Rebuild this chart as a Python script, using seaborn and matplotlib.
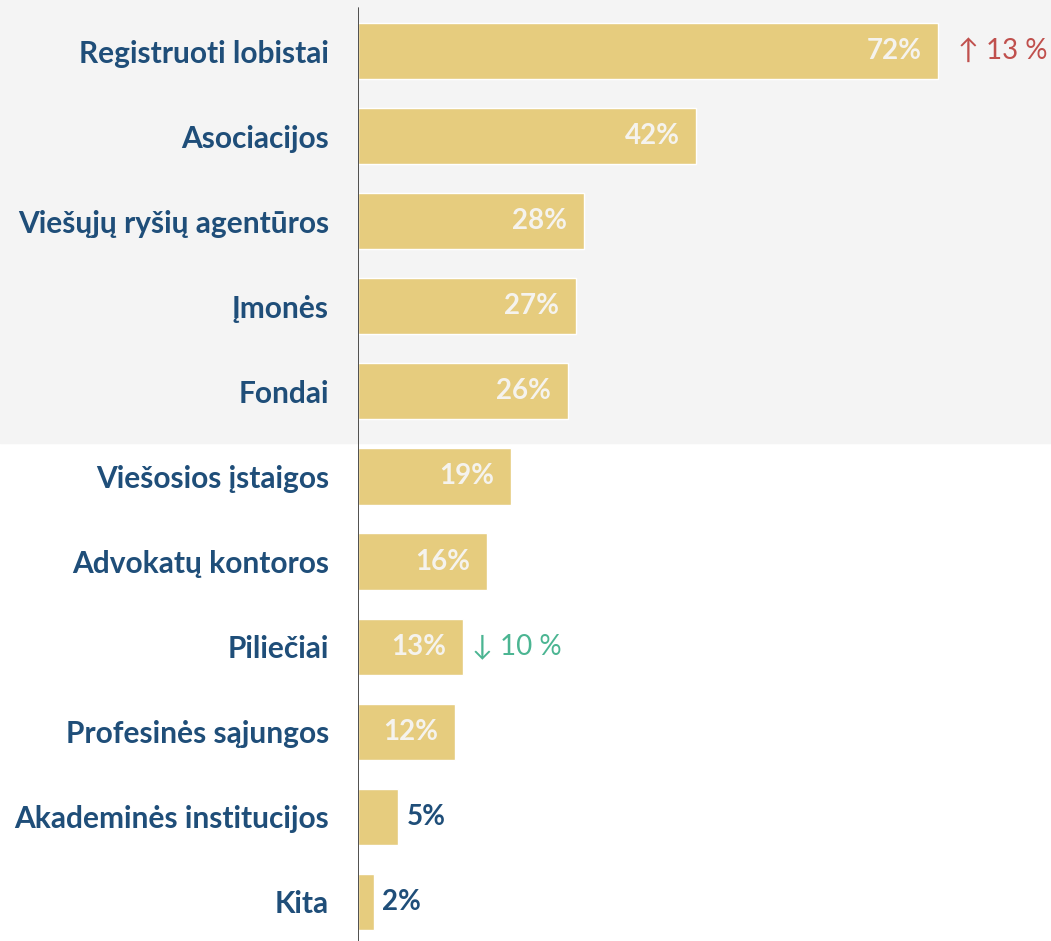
import matplotlib
matplotlib.use("Agg")
import matplotlib.pyplot as plt
import matplotlib.patches as mpatches
import pandas as pd
import seaborn as sns

# Duomenys
categories = [
    "Registruoti lobistai", "Asociacijos", "Viešųjų ryšių agentūros", "Įmonės",
    "Fondai", "Viešosios įstaigos", "Advokatų kontoros", "Piliečiai",
    "Profesinės sąjungos", "Akademinės institucijos", "Kita",
]
values = [72, 42, 28, 27, 26, 19, 16, 13, 12, 5, 2]
changes = {"Registruoti lobistai": "↑ 13 %", "Piliečiai": "↓ 10 %"}
change_colors = {"Registruoti lobistai": "#C0504D", "Piliečiai": "#4BB592"}

df = pd.DataFrame({"category": categories, "value": values})

sns.set_style("white")
plt.rcParams["font.family"] = ["Lato", "DejaVu Sans"]

BAR = "#E6CC7E"
NAVY = "#1F4E79"

fig = plt.figure(figsize=(10.51, 9.41), dpi=100)
# pilkas fonas viršutinei daliai
fig.patches.append(mpatches.Rectangle((0, 1 - 443 / 941), 1, 443 / 941,
                                      transform=fig.transFigure,
                                      color="#F4F4F4", zorder=0))

left = 358 / 1051
ax = fig.add_axes([left, 0, 1 - left, 1])
ax.set_zorder(2)
ax.patch.set_alpha(0)

sns.barplot(data=df, y="category", x="value", orient="h", color=BAR,
            width=0.66, saturation=1, ax=ax)

ax.set_xlim(0, 86)
ax.set_ylim(10.46, -0.6)
ax.set_xlabel("")
ax.set_ylabel("")
ax.set_xticks([])
for s in ax.spines.values():
    s.set_visible(False)
ax.axvline(0, ymin=0, ymax=1 - 8 / 941, color="#404040", lw=1.3)

ax.tick_params(axis="y", length=0, pad=21)
for lbl in ax.get_yticklabels():
    lbl.set_fontsize(21.5)
    lbl.set_fontweight("bold")
    lbl.set_color(NAVY)

for i, (cat, v) in enumerate(zip(categories, values)):
    if v >= 10:
        ax.annotate(f"{v}%", (v, i), xytext=(-12, 0), textcoords="offset points",
                    ha="right", va="center", fontsize=20, fontweight="bold",
                    color="#F5F3EE")
    else:
        ax.annotate(f"{v}%", (v, i), xytext=(6, 0), textcoords="offset points",
                    ha="left", va="center", fontsize=20, fontweight="bold",
                    color=NAVY)
    if cat in changes:
        off = 14 if v > 50 else 7
        ax.annotate(changes[cat], (v, i), xytext=(off, 0), textcoords="offset points",
                    ha="left", va="center", fontsize=20,
                    color=change_colors[cat])

fig.savefig("out.png", dpi=100)
